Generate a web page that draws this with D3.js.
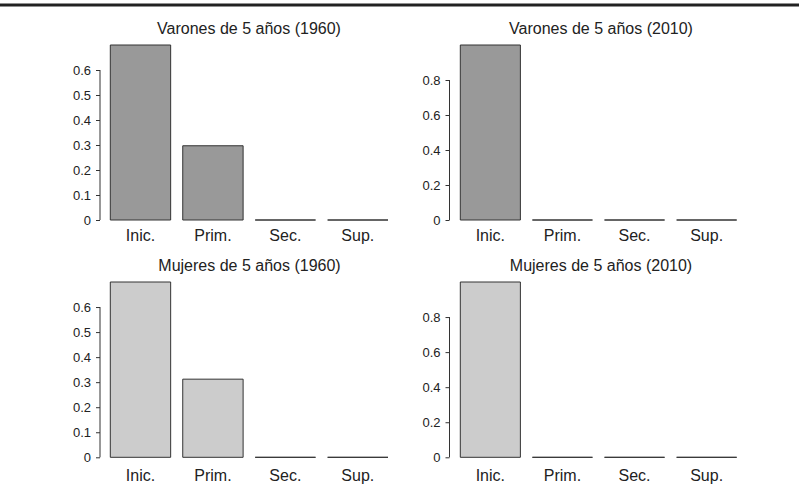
<!DOCTYPE html>
<html><head><meta charset="utf-8">
<script src="https://cdn.jsdelivr.net/npm/d3@7"></script>
<style>body{margin:0;background:#fff}svg{display:block}text{font-family:"Liberation Sans",Arial,sans-serif;fill:#222}</style>
</head><body>
<script>
const categories = ["Inic.", "Prim.", "Sec.", "Sup."];
const varones1960 = [0.70, 0.297, 0, 0];
const varones2010 = [1.0, 0, 0, 0];
const mujeres1960 = [0.70, 0.312, 0, 0];
const mujeres2010 = [1.0, 0, 0, 0];
const ticks1960 = [0, 0.1, 0.2, 0.3, 0.4, 0.5, 0.6];
const ticks2010 = [0, 0.2, 0.4, 0.6, 0.8];
const titles = ["Varones de 5 años (1960)", "Varones de 5 años (2010)", "Mujeres de 5 años (1960)", "Mujeres de 5 años (2010)"];

const W = 799, H = 493;
const svg = d3.select("body").append("svg").attr("width", W).attr("height", H);

svg.append("line").attr("x1", 0).attr("x2", W).attr("y1", 5).attr("y2", 5)
  .attr("stroke", "#222").attr("stroke-width", 3);

const panels = [
  {title: titles[0], values: varones1960, ticks: ticks1960, ymax: 0.70, x0: 110.3, x1: 388, axisX: 100, y0: 220, ytop: 45, titleY: 33.5, labOff: 20.5, fill: "#999999", titleX: 249},
  {title: titles[1], values: varones2010, ticks: ticks2010, ymax: 1.0, x0: 460.3, x1: 736.7, axisX: 449.5, y0: 220, ytop: 45, titleY: 33.5, labOff: 20.5, fill: "#999999", titleX: 601},
  {title: titles[2], values: mujeres1960, ticks: ticks1960, ymax: 0.70, x0: 110.3, x1: 388, axisX: 100, y0: 457.3, ytop: 282, titleY: 271, labOff: 23.5, fill: "#cccccc", titleX: 249.5},
  {title: titles[3], values: mujeres2010, ticks: ticks2010, ymax: 1.0, x0: 460.3, x1: 736.7, axisX: 449.5, y0: 457.3, ytop: 282, titleY: 271, labOff: 23.5, fill: "#cccccc", titleX: 601}
];

panels.forEach(p => {
  const g = svg.append("g");
  const x = d3.scaleBand().domain(categories).range([p.x0, p.x1]).paddingInner(0.2/1.2).paddingOuter(0);
  const y = d3.scaleLinear().domain([0, p.ymax]).range([p.y0, p.ytop]);

  g.selectAll("path.bar").data(p.values).join("path").attr("class", "bar")
    .attr("d", (v, i) => {
      const a = x(categories[i]), b = a + x.bandwidth();
      return `M${a},${y(0)}V${y(v)}H${b}V${y(0)}Z`;
    })
    .attr("fill", p.fill).attr("stroke", "#333").attr("stroke-width", 1);

  const ax = g.append("g").attr("transform", `translate(${p.axisX},0)`)
    .call(d3.axisLeft(y).tickValues(p.ticks).tickSize(4).tickPadding(5)
      .tickFormat(d => d === 0 ? "0" : d3.format(".1f")(d)));
  ax.select(".domain").remove();
  ax.attr("font-size", null);
  ax.selectAll(".tick line").attr("stroke", "#333");
  ax.selectAll(".tick text").style("font-size", "13px").attr("fill", "#222");
  ax.append("line").attr("x1", 0).attr("x2", 0)
    .attr("y1", y(0)).attr("y2", y(p.ticks[p.ticks.length - 1])).attr("stroke", "#333");

  g.selectAll("text.cat").data(categories).join("text").attr("class", "cat")
    .attr("x", d => x(d) + x.bandwidth() / 2).attr("y", p.y0 + p.labOff)
    .attr("text-anchor", "middle").style("font-size", "16px").text(d => d);

  g.append("text").attr("x", p.titleX).attr("y", p.titleY)
    .attr("text-anchor", "middle").style("font-size", "16px").text(p.title);
});
</script>
</body></html>
